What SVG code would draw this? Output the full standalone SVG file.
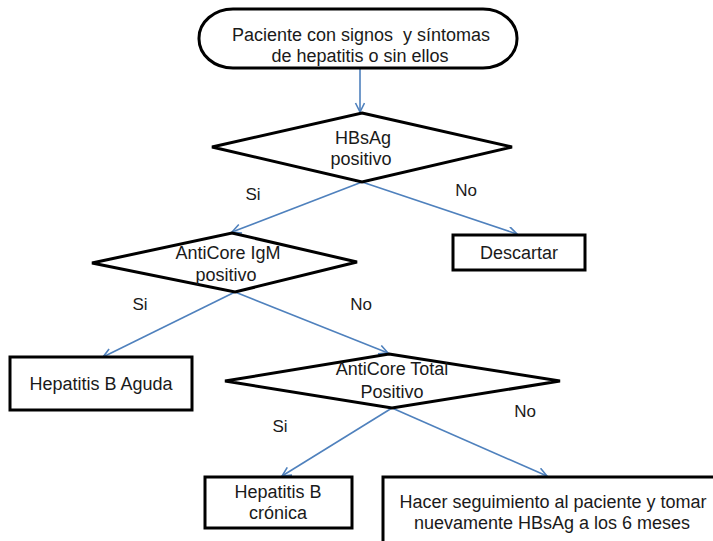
<svg xmlns="http://www.w3.org/2000/svg" width="713" height="541" viewBox="0 0 713 541">
<style>
  .shape { fill: #ffffff; stroke: #000000; stroke-width: 3; stroke-linejoin: miter; }
  .t { font-family: "Liberation Sans", Arial, sans-serif; font-size: 18px; fill: #1a1a1a; text-anchor: middle; white-space: pre; }
  .lbl { font-family: "Liberation Sans", Arial, sans-serif; font-size: 17px; fill: #1a1a1a; text-anchor: middle; }
  .conn { stroke: #4f81bd; stroke-width: 1.6; fill: none; marker-end: url(#arr); }
</style>
<defs>
  <marker id="arr" markerWidth="12" markerHeight="12" refX="10" refY="5" orient="auto" markerUnits="userSpaceOnUse">
    <path d="M1,0.5 L10,5 L1,9.5" fill="none" stroke="#4f81bd" stroke-width="1.6"/>
  </marker>
</defs>
<rect width="713" height="541" fill="#ffffff"/>

<g id="connectors">
  <line class="conn" x1="360" y1="69" x2="360" y2="112"/>
  <line class="conn" x1="362" y1="182" x2="232" y2="232"/>
  <line class="conn" x1="362" y1="182" x2="517" y2="234"/>
  <line class="conn" x1="235" y1="292" x2="103" y2="357"/>
  <line class="conn" x1="235" y1="292" x2="388" y2="353"/>
  <line class="conn" x1="392" y1="408" x2="282" y2="476"/>
  <line class="conn" x1="392" y1="408" x2="547" y2="476"/>
  <text class="lbl" x="253" y="200">Si</text>
  <text class="lbl" x="466" y="196">No</text>
  <text class="lbl" x="140" y="310">Si</text>
  <text class="lbl" x="361" y="310">No</text>
  <text class="lbl" x="280" y="432">Si</text>
  <text class="lbl" x="525" y="417">No</text>
</g>

<g id="start">
  <rect class="shape" x="199" y="9" width="318" height="59" rx="34" ry="29"/>
  <text class="t" x="361" y="41" xml:space="preserve">Paciente con signos  y síntomas</text>
  <text class="t" x="360" y="62">de hepatitis o sin ellos</text>
</g>

<g id="hbsag">
  <polygon class="shape" points="362,113 512,147 362,182 212,147"/>
  <text class="t" x="363" y="144">HBsAg</text>
  <text class="t" x="361" y="165">positivo</text>
</g>

<g id="descartar">
  <rect class="shape" x="453" y="235" width="132" height="35"/>
  <text class="t" x="519" y="259">Descartar</text>
</g>

<g id="anticore-igm">
  <polygon class="shape" points="232,233 357,262 235,292 92,263"/>
  <text class="t" x="228" y="259">AntiCore IgM</text>
  <text class="t" x="226" y="281">positivo</text>
</g>

<g id="hep-aguda">
  <rect class="shape" x="10" y="357" width="182" height="53"/>
  <text class="t" x="101" y="390">Hepatitis B Aguda</text>
</g>

<g id="anticore-total">
  <polygon class="shape" points="389,354 560,381 392,408 225,381"/>
  <text class="t" x="392" y="375">AntiCore Total</text>
  <text class="t" x="392" y="398">Positivo</text>
</g>

<g id="hep-cronica">
  <rect class="shape" x="205" y="477" width="147" height="51"/>
  <text class="t" x="278" y="498">Hepatitis B</text>
  <text class="t" x="278" y="519">crónica</text>
</g>

<g id="seguimiento">
  <rect class="shape" x="383" y="477" width="345" height="80"/>
  <text class="t" x="553" y="508">Hacer seguimiento al paciente y tomar</text>
  <text class="t" x="552" y="529">nuevamente HBsAg a los 6 meses</text>
</g>
</svg>
